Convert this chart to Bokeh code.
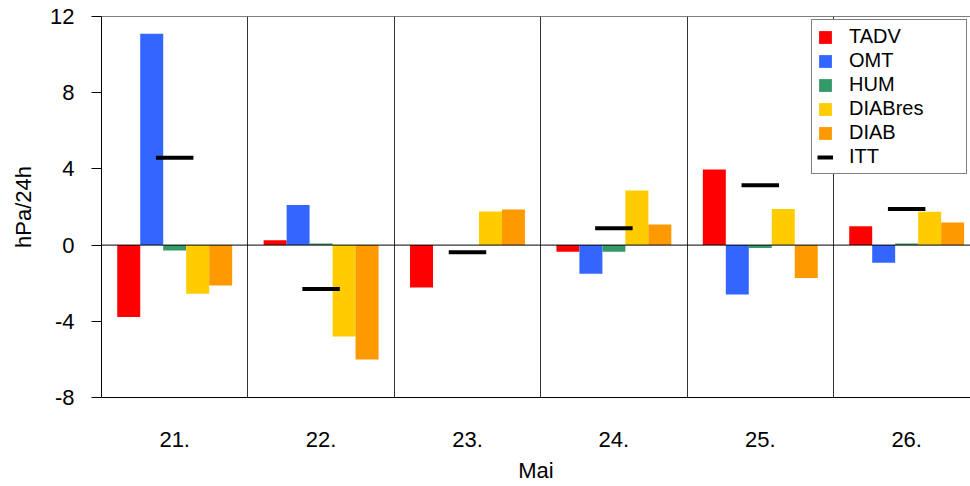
import numpy as np
from bokeh.plotting import figure
from bokeh.models import FixedTicker, Span, Legend, LegendItem, Range1d
from bokeh.embed import file_html
from bokeh.resources import INLINE

days = ["21.", "22.", "23.", "24.", "25.", "26."]
series = ["TADV", "OMT", "HUM", "DIABres", "DIAB"]
colors = ["#FF0000", "#3366FF", "#339966", "#FFCC00", "#FF9900"]
TADV = [-3.78, 0.25, -2.23, -0.35, 3.97, 0.99]
OMT = [11.09, 2.10, 0.0, -1.50, -2.59, -0.93]
HUM = [-0.28, 0.08, 0.0, -0.35, -0.15, 0.08]
DIABres = [-2.56, -4.80, 1.77, 2.87, 1.89, 1.75]
DIAB = [-2.12, -6.00, 1.87, 1.08, -1.73, 1.19]
ITT = [4.58, -2.30, -0.37, 0.89, 3.14, 1.89]
y_ticks = [-8, -4, 0, 4, 8, 12]
y_tick_labels = ["-8", "-4", "0", "4", "8", "12"]

FONT = "Liberation Sans"
x = np.arange(len(days))
bw = 0.157
offsets = [-2 * bw, -bw, 0.0, bw, 2 * bw]

p = figure(width=970, height=486, output_backend="svg", toolbar_location=None,
           x_range=Range1d(-0.5, 5.436), y_range=Range1d(-8, 12),
           min_border_left=101, min_border_top=16, min_border_bottom=89,
           min_border_right=0)
p.outline_line_color = None
p.background_fill_color = "white"

renderers = []
for name, vals, col, off in zip(series, [TADV, OMT, HUM, DIABres, DIAB], colors, offsets):
    r = p.vbar(x=x + off, top=vals, bottom=0, width=bw, fill_color=col, line_color=None)
    renderers.append((name, r))

r_itt = p.segment(x0=x - 0.128, y0=ITT, x1=x + 0.128, y1=ITT, line_width=4,
                  line_color="black", line_cap="butt")
renderers.append(("ITT", r_itt))

p.add_layout(Span(location=0, dimension="width", line_color="black", line_width=1))
p.add_layout(Span(location=12, dimension="width", line_color="black", line_width=1))

# axes
p.yaxis.ticker = FixedTicker(ticks=y_ticks)
p.yaxis.major_label_overrides = {t: l for t, l in zip(y_ticks, y_tick_labels)}
p.yaxis.major_tick_out = 10
p.yaxis.major_tick_in = 0
p.yaxis.minor_tick_line_color = None
p.yaxis.major_label_text_font = FONT
p.yaxis.major_label_text_font_size = "22px"
p.yaxis.major_label_text_color = "black"
p.yaxis.major_label_standoff = 17
p.yaxis.axis_label = "hPa/24h"
p.yaxis.axis_label_text_font = FONT
p.yaxis.axis_label_text_font_size = "22px"
p.yaxis.axis_label_text_font_style = "normal"
p.yaxis.axis_label_text_color = "black"
p.yaxis.axis_label_standoff = 11
p.yaxis.axis_line_color = "black"
p.yaxis.major_tick_line_color = "black"

p.xaxis.ticker = FixedTicker(ticks=list(x))
p.xaxis.major_label_overrides = {int(i): d for i, d in zip(x, days)}
p.xaxis.major_tick_out = 0
p.xaxis.major_tick_in = 0
p.xaxis.minor_tick_line_color = None
p.xaxis.major_label_text_font = FONT
p.xaxis.major_label_text_font_size = "22px"
p.xaxis.major_label_text_color = "black"
p.xaxis.major_label_standoff = 34
p.xaxis.axis_label = "Mai"
p.xaxis.axis_label_text_font = FONT
p.xaxis.axis_label_text_font_size = "22px"
p.xaxis.axis_label_text_font_style = "normal"
p.xaxis.axis_label_text_color = "black"
p.xaxis.axis_label_standoff = 8
p.xaxis.axis_line_color = "black"

p.ygrid.grid_line_color = None
p.xgrid.ticker = FixedTicker(ticks=list(x[:-1] + 0.5))
p.xgrid.grid_line_color = "#333333"
p.xgrid.grid_line_width = 1

legend = Legend(items=[LegendItem(label=n, renderers=[r]) for n, r in renderers],
                location="top_right", margin=3, padding=5, spacing=1,
                glyph_width=16, glyph_height=16, label_height=20,
                label_width=112, label_standoff=16,
                label_text_font=FONT, label_text_font_size="20px",
                label_text_color="black",
                border_line_color="black", border_line_width=1,
                background_fill_color="white", background_fill_alpha=1)
p.add_layout(legend)

open("out.html", "w").write(file_html(p, INLINE))
